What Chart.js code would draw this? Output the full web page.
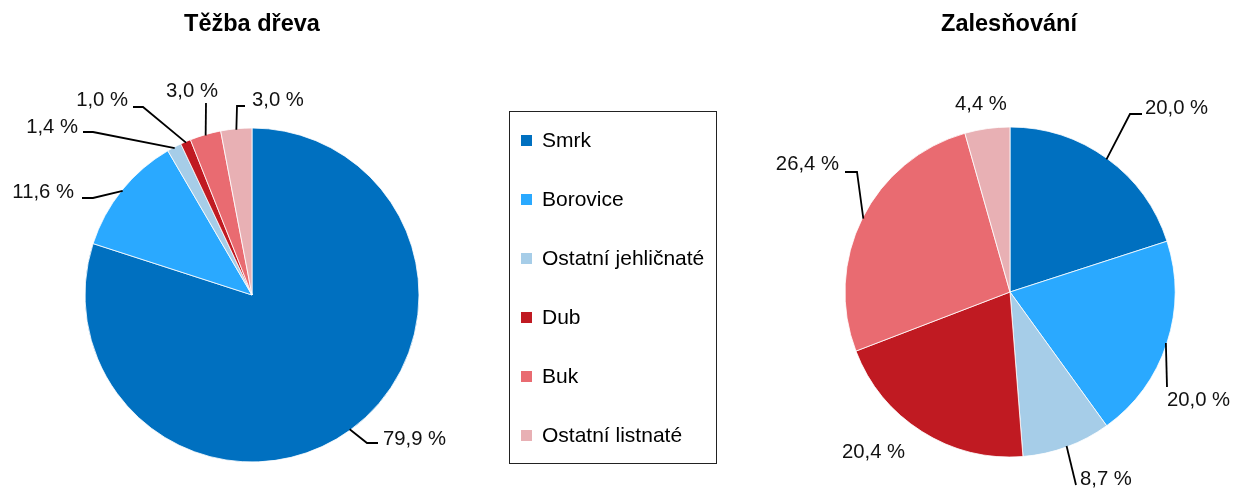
<!DOCTYPE html>
<html>
<head>
<meta charset="utf-8">
<script src="https://cdn.jsdelivr.net/npm/chart.js@4.4.1/dist/chart.umd.min.js"></script>
<style>
	html, body { margin: 0; padding: 0; background: #fff; }
	#wrap { position: relative; width: 1234px; height: 488px; font-family: 'Liberation Sans', Arial, sans-serif; color: #000; }
	#wrap canvas { position: absolute; left: 0; top: 0; }
	.title { position: absolute; top: 12px; font-weight: bold; font-size: 23.5px; line-height: 1; transform: translateX(-50%); white-space: nowrap; }
	#legend { position: absolute; left: 509px; top: 111px; width: 206px; height: 351px; border: 1.3px solid #222; }
	#legend .item { position: absolute; left: 11px; height: 24px; line-height: 24px; font-size: 21px; white-space: nowrap; }
	#legend .box { display: inline-block; width: 11px; height: 11px; margin-right: 10px; vertical-align: 1px; }
</style>
</head>
<body>
<div id="wrap">
	<canvas id="tezbaChart" width="1234" height="488"></canvas>
	<canvas id="zalesChart" width="1234" height="488"></canvas>
	<div class="title" style="left:252px">Těžba dřeva</div>
	<div class="title" style="left:1009px">Zalesňování</div>
	<div id="legend"></div>
</div>
<script>
// Těžba dřeva / Zalesňování – podíl dřevin (%)

const categories = ['Smrk', 'Borovice', 'Ostatní jehličnaté', 'Dub', 'Buk', 'Ostatní listnaté'];
const tezbaValues = [79.9, 11.6, 1.4, 1.0, 3.0, 3.0];
const zalesValues = [20.0, 20.0, 8.7, 20.4, 26.4, 4.4];

const colors = ['#0070c0', '#2aa9ff', '#a6cde8', '#c01a22', '#e96b71', '#e8b0b4'];

// label placement (page px): text anchor + leader line bends, line starts at the slice edge
const tezbaLabelLayout = [
	{ x: 383, y: 439, align: 'left',   line: [[367, 443], [378, 443]] },
	{ x: 74,  y: 192, align: 'right',  line: [[93, 198], [82, 198]] },
	{ x: 78,  y: 127, align: 'right',  line: [[93, 132], [83, 132]] },
	{ x: 128, y: 100, align: 'right',  line: [[143, 107], [133, 107]] },
	{ x: 192, y: 91,  align: 'center', line: [[206, 103]] },
	{ x: 252, y: 100, align: 'left',   line: [[237, 106], [245, 106]] }
];
const zalesLabelLayout = [
	{ x: 1145, y: 108, align: 'left',  line: [[1130, 114], [1142, 114]] },
	{ x: 1167, y: 400, align: 'left',  line: [[1167, 387]] },
	{ x: 1080, y: 479, align: 'left',  line: [[1076, 485]] },
	{ x: 842,  y: 452, align: 'left',  line: null },
	{ x: 839,  y: 164, align: 'right', line: [[857, 172], [845, 172]] },
	{ x: 955,  y: 104, align: 'left',  line: null }
];

const fmt = v => v.toFixed(1).replace('.', ',') + ' %';

const leaderLabels = {
	id: 'leaderLabels',
	afterDatasetsDraw(chart, args, opts) {
		const ctx = chart.ctx;
		const meta = chart.getDatasetMeta(0);
		const data = chart.data.datasets[0].data;
		ctx.save();
		ctx.strokeStyle = '#000';
		ctx.lineWidth = 1.8;
		ctx.fillStyle = '#111';
		ctx.font = '20.3px "Liberation Sans", Arial, sans-serif';
		ctx.textBaseline = 'middle';
		meta.data.forEach((arc, i) => {
			const L = opts.layout[i];
			const p = arc.getProps(['x', 'y', 'startAngle', 'endAngle', 'outerRadius'], true);
			const mid = (p.startAngle + p.endAngle) / 2;
			if (L.line) {
				ctx.beginPath();
				ctx.moveTo(p.x + Math.cos(mid) * (p.outerRadius - 1), p.y + Math.sin(mid) * (p.outerRadius - 1));
				L.line.forEach(pt => ctx.lineTo(pt[0], pt[1]));
				ctx.stroke();
			}
			ctx.textAlign = L.align;
			ctx.fillText(fmt(data[i]), L.x, L.y);
		});
		ctx.restore();
	}
};

function makePie(id, values, radius, padding, layout) {
	return new Chart(document.getElementById(id), {
		type: 'pie',
		data: {
			labels: categories,
			datasets: [{
				data: values,
				backgroundColor: colors,
				borderColor: '#fff',
				borderWidth: 0.8
			}]
		},
		options: {
			responsive: false,
			animation: false,
			events: [],
			radius: radius,
			layout: { padding: padding },
			plugins: {
				legend: { display: false },
				tooltip: { enabled: false },
				leaderLabels: { layout: layout }
			}
		},
		plugins: [leaderLabels]
	});
}

function renderLegend() {
	const el = document.getElementById('legend');
	categories.forEach((name, i) => {
		const row = document.createElement('div');
		row.className = 'item';
		row.style.top = (28 + i * 59 - 12) + 'px';
		row.innerHTML = `<span class="box" style="background:${colors[i]}"></span>${name}`;
		el.appendChild(row);
	});
}

makePie('tezbaChart', tezbaValues, 167, { left: 85, right: 815, top: 128, bottom: 26 }, tezbaLabelLayout);
makePie('zalesChart', zalesValues, 165, { left: 845, right: 59, top: 128, bottom: 32 }, zalesLabelLayout);
renderLegend();
</script>
</body>
</html>
